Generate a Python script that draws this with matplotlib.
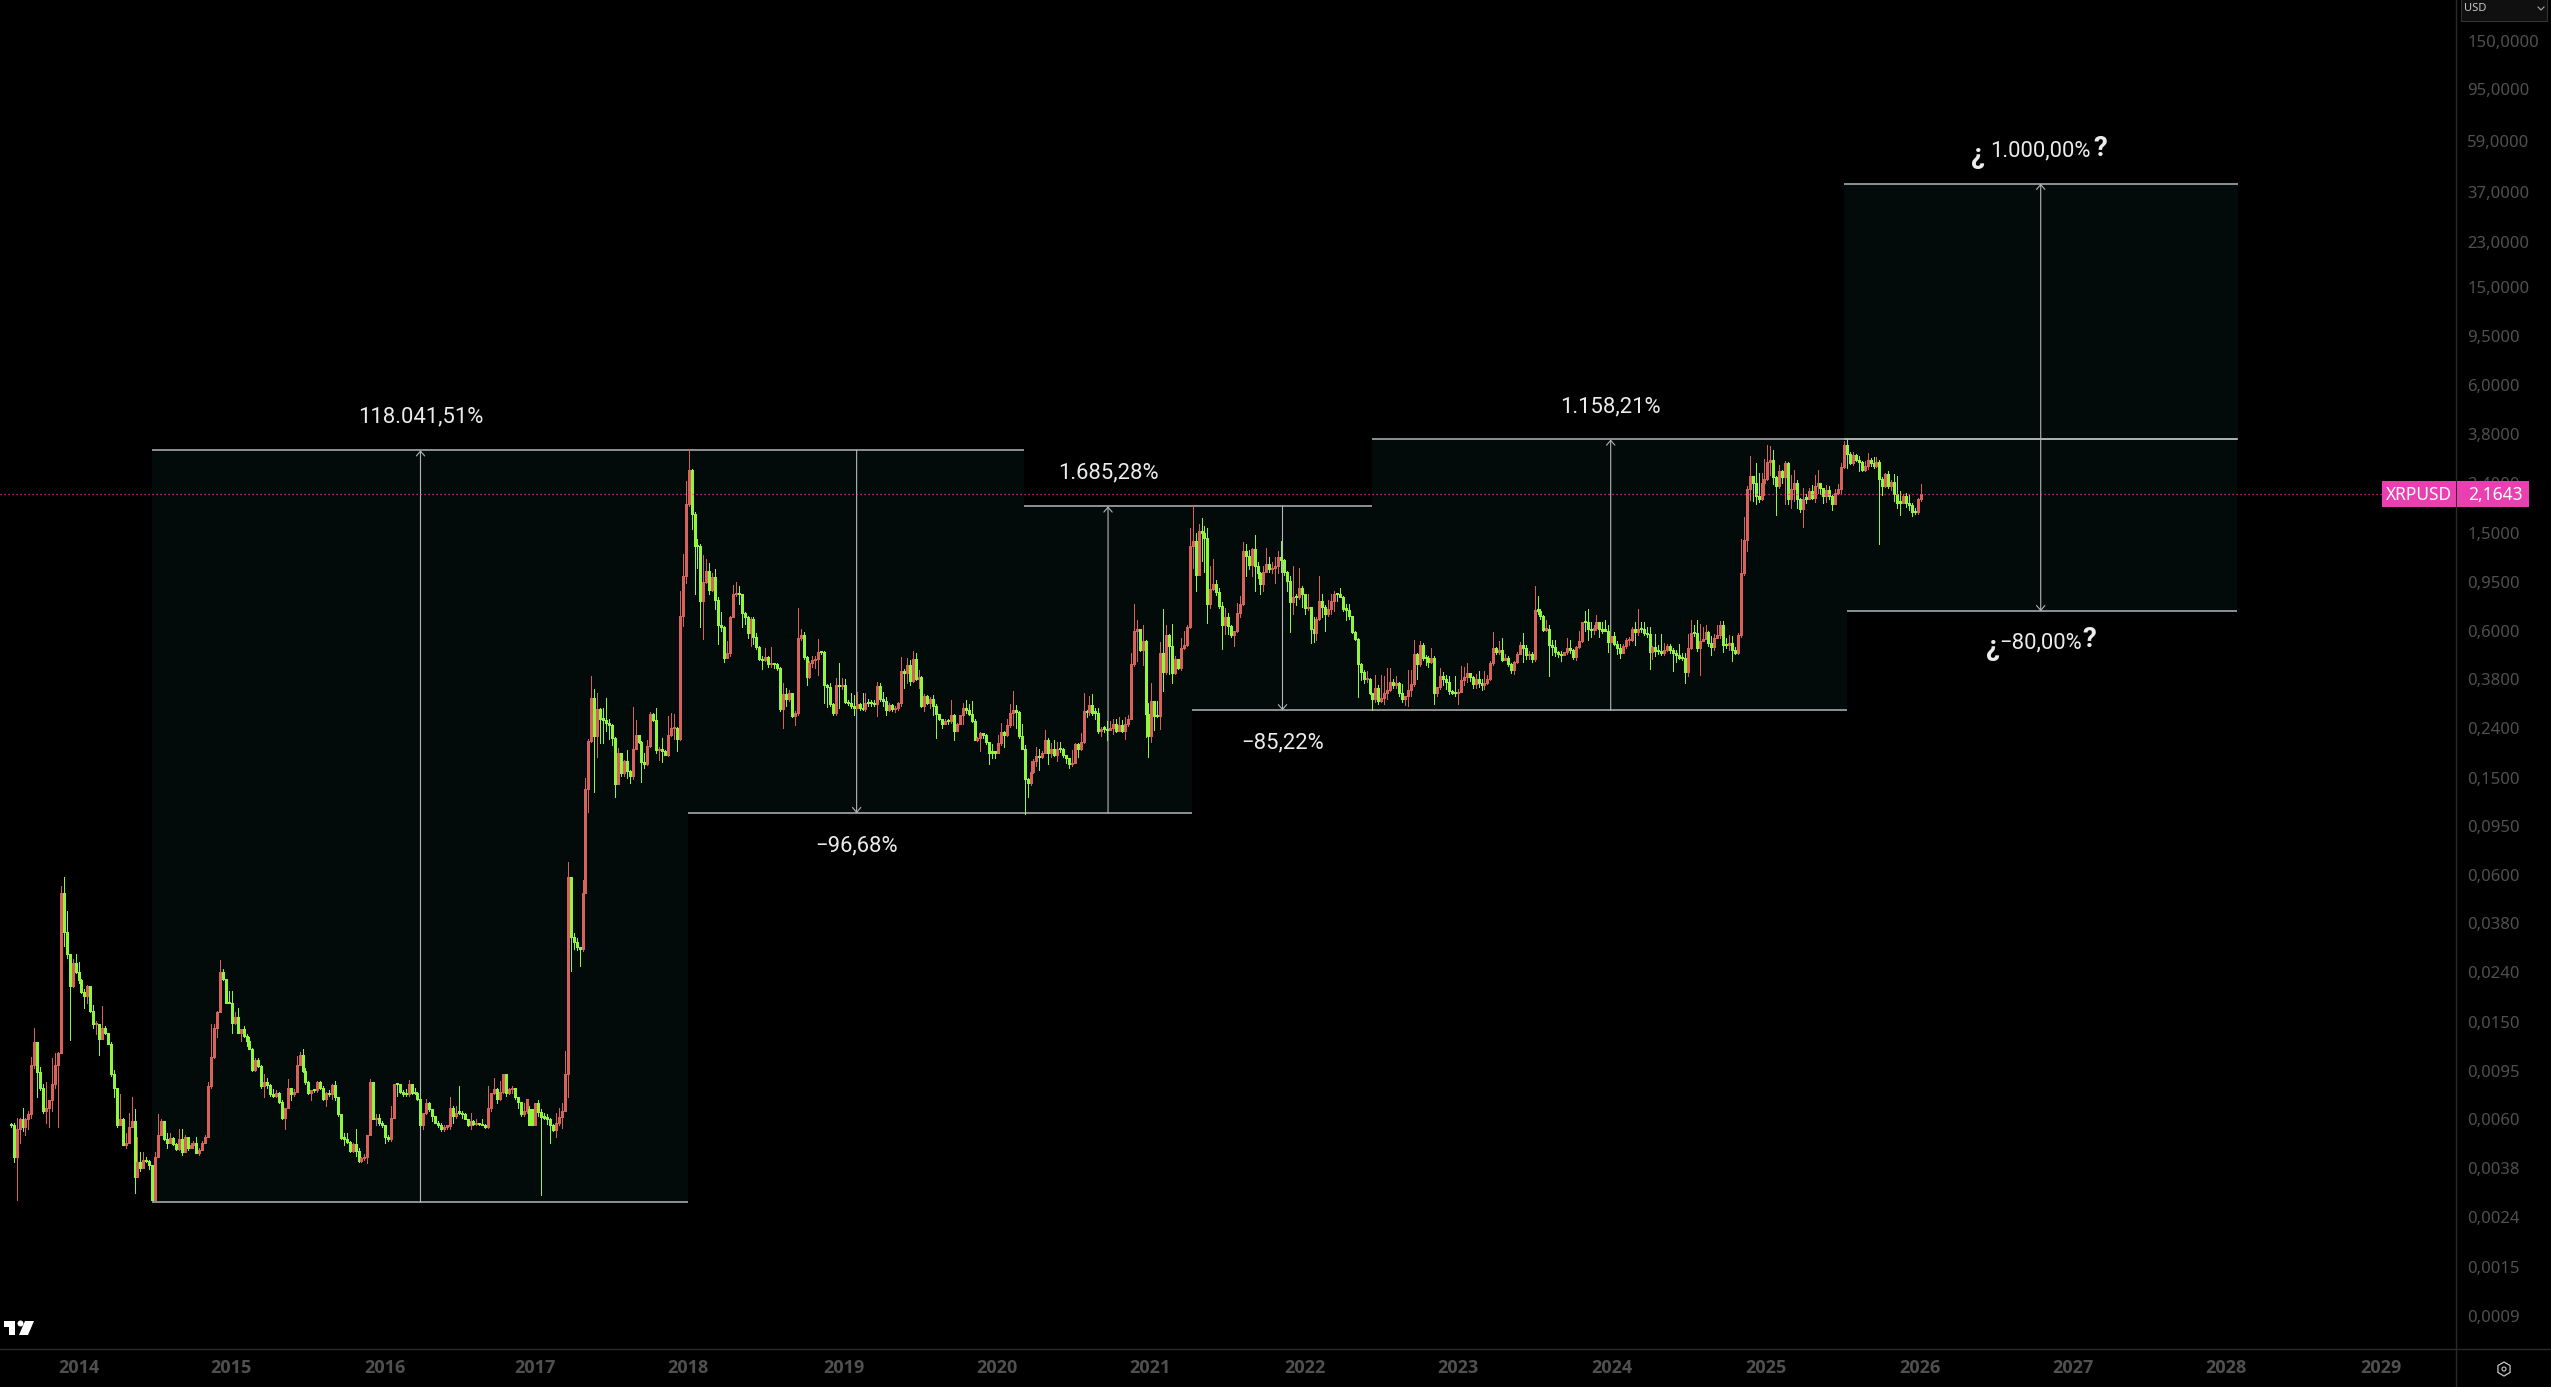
import numpy as np
import matplotlib
matplotlib.use("Agg")
import matplotlib.pyplot as plt
from matplotlib.lines import Line2D
from matplotlib.patches import Rectangle, Polygon, RegularPolygon, Circle
from matplotlib.transforms import IdentityTransform

W, H = 2551, 1387

# weekly XRPUSD, values in 1e-4 USD, ten bars per row
close_e4 = [
    57,42,55,60,56,60,63,100,124,94,
    81,65,67,72,84,100,112,505,350,285,
    210,262,240,223,200,192,210,167,147,148,
    128,142,136,122,92,81,57,60,47,48,
    56,59,35,40,38,41,40.5,39,28,42,
    52,59,50,48,50.5,47.5,45.5,50,44,51,
    46,47,48,43.6,45,48,51,82,108,142,
    165,240,225,180,180,149,158,135,140,132,
    126,117,96,105,99,82,85,83,76,75,
    77,71,61,67,81,76,78,100,110,95,
    85,77,79,79,85,81,73,77,76,83,
    74,63,50.5,50,48.5,44.5,47.7,44.6,40.6,41.6,
    42,52,85,60,61,58,57,51,50,61,
    84,83.5,78,76,76,84,77,77,73,57,
    63.5,70,66,62,58,57,54.6,56,56.5,67,
    62,64,64,63,60.5,57,59,57.5,58,57.5,
    57,56,67,77,80,72.5,78,92,77,80,
    81,74,71,63,65,73,57,57,70,64.5,
    61.5,61,60.5,57,54.5,58,61.5,65,92,590,
    335,320,305,300,505,1350,2120,3170,2220,2860,
    2610,2590,2510,2470,2190,1410,1900,1570,1756,1600,
    1520,1970,2240,2100,1740,1710,2020,2740,2590,1950,
    1970,1930,1860,2240,2390,2400,2170,6900,10000,19700,
    27200,18000,13300,13300,7910,9450,10490,8770,9900,7980,
    6300,6200,4630,4850,6800,8430,8500,8430,7070,6800,
    5850,6700,5650,5120,4580,4540,4660,4360,4410,4360,
    4220,2860,3300,3150,3320,2680,2750,5590,5750,4660,
    3880,4410,4540,4580,4890,4890,3590,3520,3000,2750,
    3590,3550,3590,3060,3030,2950,2900,3000,2900,2860,
    3030,3030,3030,2990,3550,3150,3100,2840,2980,2860,
    2900,3030,4090,4030,4340,3730,4580,3800,3860,2950,
    3240,3030,3140,2950,2740,2610,2490,2560,2560,2700,
    2330,2480,2700,2900,2840,2730,2560,2140,2190,2280,
    2240,2100,1900,1900,1900,2080,2310,2240,2460,2770,
    2850,2790,2220,1970,1480,1430,1580,1750,1840,1820,
    1900,2140,1890,1970,1860,1970,1970,1860,1800,1710,
    1730,2060,1970,2100,2810,2790,2980,2770,2770,2330,
    2380,2380,2350,2400,2480,2340,2460,2340,2480,2620,
    4360,5960,6080,4990,5430,2740,2220,3090,2680,2680,
    4850,4060,5760,5200,4040,4570,4220,5100,5230,6190,
    13300,13900,10100,15400,15100,14400,7680,8900,9300,8600,
    7550,6300,6800,6250,5740,5960,7070,7680,12670,12100,
    11100,12900,11000,10300,9300,10400,11200,10700,10800,11000,
    12000,11700,10400,9550,7840,8270,8200,9000,8430,7400,
    7490,6100,5850,6680,7910,7490,7000,7360,7910,8430,
    8430,8270,7350,7300,6850,5900,5540,4360,4060,3790,
    3800,3320,3140,3500,3090,3170,3320,3430,3690,3590,
    3650,3320,3140,3240,3430,3620,4800,4360,5240,4640,
    4640,4450,4640,3320,3520,3900,3790,3690,3390,3320,
    3320,3350,3750,3880,4020,3860,3640,3790,3650,3590,
    3650,3790,4400,5080,4890,5000,4540,4640,4360,4130,
    4450,4800,5250,5080,4750,4800,4580,7300,7240,6850,
    6050,6100,5250,5150,4890,4800,4770,4880,5080,5000,
    4660,5150,5430,6480,6480,6070,6020,6150,6480,6100,
    6000,6000,5370,5680,5280,5080,4870,5190,5490,5500,
    6100,5900,6100,6100,5850,5800,4890,5150,4940,4940,
    4860,4990,5190,5000,4860,4750,4650,4620,4060,5070,
    5850,5850,5080,5430,5540,5900,5360,5120,5600,5770,
    6320,5220,5220,5360,5000,4870,5780,10300,14100,22700,
    25700,24000,21400,20800,24000,24900,29400,30000,25500,23500,
    26900,25500,29000,20800,22700,24000,20800,18800,20800,20800,
    22300,21000,23400,24100,22900,21400,22500,21300,19800,21900,
    22700,28000,34600,31800,29000,31400,30000,29500,27200,28300,
    30000,29000,28300,29300,25000,23400,26100,23400,24400,21800,
    20000,20000,21300,20000,19500,18300,18300,20700,21643,
]
high_e4 = [
    58,58,61,61,67,61,65,108,142,124,
    98,84,85,72,107,112,113,540,590,428,
    285,272,285,265,225,205,212,210,177,152,
    148,175,145,136,124,96,81,76,61,53,
    64,74,66,51,44,44,42,41,39,44,
    63,60,59,53,53,51,48,55,55,52,
    51,48,49,51,46,49,52,85,147,147,
    167,270,247,226,201,201,165,172,141,145,
    134,130,118,107,107,100,92,89,84,80,
    79,78,72,67,88,81,80,109,113,116,
    97,86,79,80,86,86,82,78,79,84,
    86,74,63,53,53,49,48,55,46,42,
    43.5,52,88,85,63,63,59,57,52,68,
    84,84,84,79,80,87,84,81,78,73,
    64,73,71,66,62,59,58,57,57,74,
    68,68,82,65,63.5,60.5,64,59.5,60.5,58,
    60,57.5,82,77,89,81,86,92,92,81,
    82,81,74,71,70,73,68,66,70,72,
    66,64,63,61,57.5,64,67,70,114,680,
    590,348,330,305,575,1500,2170,3900,3460,3320,
    2900,2900,3170,2620,2480,2200,1990,1900,1780,1950,
    1620,2920,2590,2250,2110,1890,2150,2780,2750,2900,
    2000,2190,1950,2680,2750,2740,2420,8700,12300,24500,
    33100,27500,18300,14200,13500,12200,11800,11300,10300,10700,
    8200,7130,6250,5430,6900,9200,9450,9100,8500,7150,
    6850,6800,6800,5850,5200,4700,5080,4700,5120,4420,
    4400,4260,3650,3500,3420,3330,2820,7450,6100,5900,
    4700,4500,4720,4720,5540,4950,4950,3640,3660,3040,
    3820,4400,3820,3800,3120,3330,3270,3370,3030,3340,
    3340,3150,3120,3120,3680,3650,3350,3220,3020,3000,
    2950,3060,4660,4180,4620,4540,4940,4850,4150,3900,
    3300,3270,3210,3280,3000,2740,2610,2620,2620,3130,
    2730,2500,2720,3020,3130,3000,3090,2600,2210,2300,
    2290,2260,2100,2060,1920,2250,2500,2320,2620,3000,
    3390,2980,2820,2480,2050,1500,1760,1790,2000,1960,
    1930,2350,2180,2090,2140,2100,2100,1990,1850,1780,
    1950,2090,2080,2280,3320,2850,3230,3300,2900,2900,
    2420,2440,2550,2550,2620,2600,2660,2580,2660,2720,
    4850,7730,6600,5000,6350,5490,3030,3650,3100,3100,
    5380,7360,6300,5800,6400,4700,4500,5600,6000,6350,
    15700,19500,15000,16400,17300,16000,15700,11000,11800,9700,
    9000,7850,7400,7100,6300,6000,7800,8300,13800,13600,
    12800,13000,14800,11400,10400,11000,13000,12000,11500,12000,
    12700,13900,11800,10500,10000,11000,8500,10800,9100,8500,
    8500,7500,6800,6800,10000,8500,7600,8000,8500,8700,
    8500,9000,8300,7700,7700,6870,5950,5600,4420,4150,
    4100,3850,3340,3950,3600,3950,3900,4200,4200,3790,
    3900,3700,3630,3240,4150,4150,5500,4850,5450,5350,
    4780,4700,5100,4720,3520,4200,4050,3950,3900,3430,
    3900,3450,4300,4250,4430,4020,3900,4000,4090,3800,
    4100,3950,4500,5900,5150,5450,5600,4800,4700,4400,
    4500,4900,5400,5850,5250,4970,4900,9100,8300,7350,
    6950,6650,6350,5500,5500,4970,4960,4900,5620,5500,
    5050,5200,5950,6500,7200,7350,6500,6300,6950,6530,
    6530,6650,6350,5700,5900,5450,5300,5300,5600,5650,
    6200,6500,7350,6500,6500,6200,6200,5200,5800,5250,
    5800,5350,5300,5300,5100,5000,5300,4850,4850,5800,
    6600,6300,6600,6400,6200,6300,6000,5700,5800,6350,
    6550,6550,5600,5750,5700,5150,5850,14200,17500,23400,
    31000,25000,29000,26500,26500,30200,34500,34000,33000,25800,
    28500,27300,29600,29400,26000,27200,24700,20900,23000,21800,
    23000,23700,26000,27300,24000,23000,23700,23500,21600,22700,
    23800,29000,35800,36400,32300,32400,31800,31000,29700,29700,
    32000,30500,30900,30900,30000,25500,26500,27000,24700,26200,
    25700,22300,21700,22000,21500,20000,19000,21000,23900,
]
low_e4 = [
    56,40,28,48,54,52,55,61,97,74,
    79,64,58,56,65,81,56,112,307,275,
    127,208,238,217,197,172,180,165,142,134,
    110,128,134,122,90,74,56,57,47,46,
    48,56,30,35,37,38,40,37.6,28,28,
    42,52,49.5,46,48,47,45,45,43,44,
    45,46,46,43.6,43,45,48,51,81,107,
    130,165,224,180,180,136,148,135,126,131,
    120,116,95,95,98,81,74,81,75,74,
    74,70,60,55,67,72,75,78,100,94,
    84,76,72,78,78,80,72,68,75,73,
    72,62,50,47,48,44,44,42.6,40,40,
    40.8,39.7,52,60,57,57,56,48,49,49,
    61,75,77,75,75,75,76,76,72,56,
    55,63,65,59,58,56,54,54,55,55,
    58,61,63,61,60,56.5,55,57,57,57,
    57,55.5,55.5,65,76,70,72,77,75,76,
    77,73,67,62,62,64,57,57,69,62,
    29.5,60,57.5,48,54,51,57,55.5,65,74,
    243,300,295,255,293,505,1090,2100,1310,1830,
    2080,2080,2330,2160,2050,1250,1410,1520,1530,1500,
    1430,1480,1960,2080,1440,1650,1690,2010,2570,1890,
    1775,1740,1850,1840,2220,2160,1930,2150,6250,9350,
    19400,15600,8500,10800,6200,5540,9400,8430,8700,7340,
    5290,5960,4450,4630,4700,6800,8300,7690,6200,6400,
    5590,5200,5300,5050,4550,4170,4500,4250,4250,4200,
    4150,2820,2390,2950,3100,2650,2470,2720,5500,4600,
    3600,3850,4250,4200,3950,4800,3030,2920,2950,2720,
    2720,2900,3450,3030,2980,2900,2720,2880,2850,2840,
    2820,2960,2950,2950,2680,3100,2950,2720,2800,2800,
    2780,2850,2960,3500,3650,3600,3680,3750,3500,2920,
    2800,3000,2900,2720,2190,2590,2400,2480,2480,2500,
    2140,2320,2480,2480,2750,2700,2540,2130,2120,1930,
    2190,2070,1710,1800,1800,1890,2040,2010,2220,2430,
    2470,2400,2180,2000,1070,1250,1400,1570,1680,1620,
    1800,1890,1710,1830,1840,1760,1910,1820,1730,1640,
    1680,1720,1820,1950,2080,2650,2710,2700,2620,2280,
    2230,2300,2140,2350,2260,2300,2320,2300,2160,2450,
    2640,4300,4500,4950,4350,2200,1830,2100,2360,2650,
    2380,3400,4000,4000,3650,4000,4170,4150,5050,5200,
    6150,10800,8700,10100,11600,10400,6450,7400,8800,8400,
    7400,5030,5800,5800,5640,5200,5900,6800,7600,10000,
    10700,10000,8700,9800,8450,8750,10700,10400,10300,9400,
    10300,10400,10100,8700,5900,7000,7600,8100,7500,7000,
    7300,5350,5400,5500,6600,6800,6000,6900,7000,7200,
    7950,8200,7200,6600,6700,5850,5500,3220,3750,3650,
    3700,3300,2830,3050,3000,3050,3000,3150,3400,3480,
    3500,3230,3060,2980,2960,3250,3550,3800,4300,4560,
    4350,4250,4400,2990,3240,3450,3600,3460,3300,3300,
    3250,3000,3350,3600,3700,3740,3480,3490,3530,3430,
    3460,3620,3750,4340,4800,4800,4520,4530,4290,4030,
    4000,4400,4800,4450,4600,4580,4450,4500,7000,6700,
    6000,5980,3900,4750,4700,4670,4500,4780,4800,4850,
    4580,4550,5100,5380,6000,5500,5650,5800,6050,5650,
    5850,5950,4920,5400,5250,4800,4650,4860,5100,5220,
    5450,5250,5750,5900,5750,5650,4170,4600,4700,4800,
    4780,4750,4950,4850,4100,4450,4600,4550,3650,3900,
    5050,5700,4970,3950,5500,5700,5200,4750,5000,5600,
    5600,4920,5080,5000,4500,4800,4800,5650,10100,12700,
    20500,20300,19700,20100,20600,21500,24700,26000,23900,17800,
    23000,24200,19700,19700,19100,20400,19000,18400,15900,20000,
    20700,20800,20200,22000,21700,20000,20200,20800,18600,19800,
    21800,22000,27700,27700,28800,28600,29700,27100,26900,27000,
    27400,28200,27700,28000,13500,21500,23200,23000,22600,20300,
    19000,17900,19900,19200,18600,17600,18000,18000,20400,
]
open_gaps = {176: 66, 177: 66}
first_bar, last_bar = 2013.558, 2026.017

# measure tools: left, right, top price, bottom price
range_left = [2014.479, 2017.976, 2020.171, 2021.263, 2022.437, 2025.517, 2025.537]
range_right = [2017.976, 2020.171, 2021.263, 2022.437, 2025.537, 2028.09, 2028.078]
range_top = [3.28, 3.28, 1.933, 1.933, 3.63, 40.4, 3.63]
range_bottom = [0.00275, 0.1074, 0.1074, 0.283, 0.283, 3.63, 0.72]

arrow_x = [2016.231, 2019.076, 2020.716, 2021.854, 2023.995]
arrow_from = [0.00275, 3.28, 0.1074, 1.933, 0.283]
arrow_to = [3.28, 0.1074, 1.933, 0.283, 3.63]
arrow_labels = ["118.041,51%", "−96,68%", "1.685,28%", "−85,22%", "1.158,21%"]

forecast_x = 2026.80
forecast_prices = [40.4, 3.63, 0.72]

year_pos = [2014.0, 2014.995, 2015.999, 2016.98, 2017.975, 2018.99, 2019.99, 2020.99,
            2022.0, 2023.0, 2024.0, 2025.01, 2026.01, 2027.01, 2028.01, 2029.02]
year_labels = ["2014", "2015", "2016", "2017", "2018", "2019", "2020", "2021",
               "2022", "2023", "2024", "2025", "2026", "2027", "2028", "2029"]
price_ticks = [155, 98.5, 60.5, 37.5, 23.3, 15.2, 9.6, 6.05, 3.83, 2.4, 1.5, 0.95, 0.6, 0.38, 0.24, 0.15,
               0.095, 0.06, 0.038, 0.024, 0.015, 0.0095, 0.006, 0.0038, 0.0024, 0.0015, 0.00094]
price_labels = ["150,0000", "95,0000", "59,0000", "37,0000", "23,0000", "15,0000", "9,5000",
                "6,0000", "3,8000", "2,4000", "1,5000", "0,9500", "0,6000", "0,3800", "0,2400",
                "0,1500", "0,0950", "0,0600", "0,0380", "0,0240", "0,0150", "0,0095", "0,0060",
                "0,0038", "0,0024", "0,0015", "0,0009"]
last_price = 2.1643

RED = "#d6625a"
GREEN = "#8ff53f"
BOX = "#020a0a"
LINE = "#b4b6b8"
PINK = "#e93fb0"
AXIS = "#2a2a2a"
TICK = "#505050"

plt.rcParams["font.family"] = ["Noto Sans", "DejaVu Sans"]

fig = plt.figure(figsize=(W / 100, H / 100), dpi=100, facecolor="black")
ax = fig.add_axes([0, 1 - 1349 / H, 2456 / W, 1349 / H], facecolor="black")
ax.set_yscale("log")
ax.set_xlim(2013.488, 2029.509)
ax.set_ylim(6.9e-4, 228.0)

# shaded ranges and their edges
for l, r, t, b in zip(range_left, range_right, range_top, range_bottom):
    ax.fill_between([l, r], b, t, color=BOX, lw=0, zorder=1)
for l, r, t, b in zip(range_left, range_right, range_top, range_bottom):
    ax.hlines([t, b], l, r, color=LINE, lw=1.1, zorder=2)

for x, p0, p1, lab in zip(arrow_x, arrow_from, arrow_to, arrow_labels):
    ax.annotate("", xy=(x, p1), xytext=(x, p0), zorder=3,
                arrowprops=dict(arrowstyle="->,head_length=0.35,head_width=0.3", color=LINE,
                                lw=0.8, shrinkA=0, shrinkB=0))
    off = 33 if p1 > p0 else -33
    ax.annotate(lab, xy=(x, p1), xytext=(0, off), textcoords="offset pixels", color="#ececec",
                fontsize=15.8, family="Roboto", ha="center", va="center")

ax.annotate("", xy=(forecast_x, forecast_prices[0]), xytext=(forecast_x, forecast_prices[2]), zorder=3,
            arrowprops=dict(arrowstyle="<->,head_length=0.35,head_width=0.3", color=LINE,
                            lw=0.8, shrinkA=0, shrinkB=0))

# pct labels of the forecast, with the question marks typed around them
for price, lab, dy, lx, ly, qx, qy in [
    (forecast_prices[0], "1.000,00%", 33, -63, 28, 60, 35),
    (forecast_prices[2], "−80,00%", -32, -48, -36, 49, -28),
]:
    ax.annotate(lab, xy=(forecast_x, price), xytext=(0, dy), textcoords="offset pixels",
                color="#ececec", fontsize=15.8, family="Roboto", ha="center", va="center")
    ax.annotate("¿", xy=(forecast_x, price), xytext=(lx, ly), textcoords="offset pixels",
                color="#ececec", fontsize=20, family="Roboto", fontweight="bold", ha="center", va="center")
    ax.annotate("?", xy=(forecast_x, price), xytext=(qx, qy), textcoords="offset pixels",
                color="#ececec", fontsize=20, family="Roboto", fontweight="bold", ha="center", va="center")

ax.axhline(last_price, color=PINK, lw=0.9, ls=(0, (1, 2.2)), zorder=6)

# candles, up weeks red and down weeks green
n = min(len(close_e4), len(high_e4), len(low_e4))
closes = np.array(close_e4[:n]) / 1e4
highs = np.array(high_e4[:n]) / 1e4
lows = np.array(low_e4[:n]) / 1e4
opens = np.r_[closes[0], closes[:-1]]
for i, v in open_gaps.items():
    opens[i] = v / 1e4
xs = np.linspace(first_bar, last_bar, n)
colors = [RED if c > o else GREEN for o, c in zip(opens, closes)]
body_top = np.maximum(np.maximum(opens, closes), np.minimum(opens, closes) * 1.012)
body_bot = np.minimum(opens, closes)

ax.vlines(xs, lows, highs, colors=colors, lw=0.72, zorder=4, capstyle="butt", antialiased=False)
ax.vlines(xs, body_bot, body_top, colors=colors, lw=2.16, zorder=5, capstyle="butt", antialiased=False)

ax.set_xticks(year_pos)
ax.set_xticklabels(year_labels, color=TICK, fontsize=13, fontweight="bold", family="Open Sans")
ax.set_yticks(price_ticks)
ax.set_yticklabels(price_labels, color=TICK, fontsize=12)
ax.yaxis.tick_right()
ax.yaxis.set_minor_locator(plt.NullLocator())
ax.tick_params(axis="both", which="both", length=0)
ax.tick_params(axis="x", pad=7)
ax.tick_params(axis="y", pad=8)
for s in ["top", "left", "right", "bottom"]:
    ax.spines[s].set_visible(False)

# chrome is placed in screen pixels, y counted from the top of the image
px = IdentityTransform()


def rect(x0, y0, x1, y1, **kw):
    fig.add_artist(Rectangle((x0, H - y1), x1 - x0, y1 - y0, transform=px, **kw))


def poly(points, **kw):
    fig.add_artist(Polygon([(x, H - y) for x, y in points], transform=px, **kw))


fig.add_artist(Line2D([0, W], [H - 1349, H - 1349], transform=px, color=AXIS, lw=1))
fig.add_artist(Line2D([2456, 2456], [0, H], transform=px, color=AXIS, lw=1))

rect(2382, 481, 2455.5, 507, facecolor=PINK, edgecolor="none", zorder=4)
rect(2457, 481, 2529, 507, facecolor=PINK, edgecolor="none", zorder=4)
fig.text(2419 / W, 1 - 495.5 / H, "XRPUSD", color="white", fontsize=12.5, fontweight="medium",
         ha="center", va="center", zorder=5)
fig.text(2495 / W, 1 - 495 / H, "2,1643", color="white", fontsize=12.5, fontweight="bold",
         ha="center", va="center", zorder=5)

rect(2461, -2, 2547, 21, facecolor="#101010", edgecolor="#333333", lw=0.8, zorder=4)
fig.text(2464 / W, 1 - 8.5 / H, "USD", color="#c8c8c8", fontsize=8, ha="left", va="center", zorder=5)
fig.add_artist(Line2D([2538, 2541, 2544], [H - 7, H - 10, H - 7], transform=px, color="#aaaaaa", lw=0.8, zorder=5))

# tradingview mark
poly([(4, 1321), (15, 1321), (15, 1335), (9, 1335), (9, 1327), (4, 1327)], facecolor="white", edgecolor="none")
fig.add_artist(Circle((20.5, H - 1323.5), 3, transform=px, facecolor="white", edgecolor="none"))
poly([(25, 1321), (34, 1321), (28, 1335), (19, 1335)], facecolor="white", edgecolor="none")

# settings icon
fig.add_artist(RegularPolygon((2504, H - 1369), 6, radius=7, transform=px, facecolor="none",
                              edgecolor="#c8c8c8", lw=0.9))
fig.add_artist(Circle((2504, H - 1369), 2, transform=px, facecolor="none", edgecolor="#c8c8c8", lw=0.8))

fig.savefig("out.png", dpi=100, facecolor="black")
